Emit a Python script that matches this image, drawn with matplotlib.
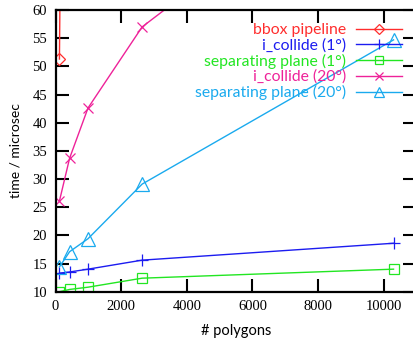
import matplotlib
matplotlib.use('Agg')
import matplotlib.pyplot as plt

# polygon counts used in every run
polygons = [120, 430, 990, 2640, 10300]

# times in microseconds (values above 60 run off the chart)
bbox_pipeline = [51.3, 260]
i_collide_1 = [13.3, 13.5, 14.0, 15.6, 18.6]
sep_plane_1 = [10.0, 10.4, 10.8, 12.4, 14.0]
i_collide_20 = [26.1, 33.7, 42.6, 57.0, 91.0]
sep_plane_20 = [14.4, 17.1, 19.4, 29.1, 54.7]

labels = ['bbox pipeline', 'i_collide (1°)', 'separating plane (1°)',
          'i_collide (20°)', 'separating plane (20°)']
colors = ['#ff2d2d', '#1c1cf0', '#22e622', '#ee2299', '#1aaaee']

sans = 'Lato'
serif = 'Liberation Serif'

fig = plt.figure(figsize=(4.14, 3.42), dpi=100)
ax = fig.add_axes([55.5 / 414, 50.3 / 342, 361 / 414, 281.7 / 342])

ax.plot(polygons[:2], bbox_pipeline, color=colors[0], lw=1, marker='D',
        mfc='none', ms=6.5, mew=0.9, label=labels[0])
ax.plot(polygons, i_collide_1, color=colors[1], lw=1, marker='+',
        ms=9, mew=0.9, label=labels[1])
ax.plot(polygons, sep_plane_1, color=colors[2], lw=1, marker='s',
        mfc='none', ms=7.5, mew=0.9, label=labels[2])
ax.plot(polygons, i_collide_20, color=colors[3], lw=1, marker='x',
        ms=6.5, mew=0.9, label=labels[3])
ax.plot(polygons, sep_plane_20, color=colors[4], lw=1, marker='^',
        mfc='none', ms=9.5, mew=0.9, label=labels[4])

ax.set_xlim(0, 11000)
ax.set_ylim(10, 60)
ax.set_xticks(range(0, 10001, 2000))
ax.set_yticks(range(10, 61, 5))
ax.tick_params(direction='in', length=9.5, width=1.5, top=True, right=True,
               labelsize=10.5, pad=6)
for lab in ax.get_xticklabels() + ax.get_yticklabels():
    lab.set_fontfamily(serif)
for sp in ax.spines.values():
    sp.set_linewidth(1.6)

ax.set_xlabel('# polygons', fontfamily=sans, fontsize=10.5, labelpad=8)
ax.set_ylabel('time / microsec', fontfamily=sans, fontsize=10, labelpad=8)

leg = ax.legend(loc='upper right', bbox_to_anchor=(402 / 414, 1 - 23 / 342),
                bbox_transform=fig.transFigure, frameon=False,
                markerfirst=False, labelcolor='linecolor', handlelength=2.95,
                handletextpad=0.6, labelspacing=0.07, borderpad=0,
                borderaxespad=0, markerscale=0.8,
                prop={'family': sans, 'size': 11.3})

fig.savefig('out.png', dpi=100)
